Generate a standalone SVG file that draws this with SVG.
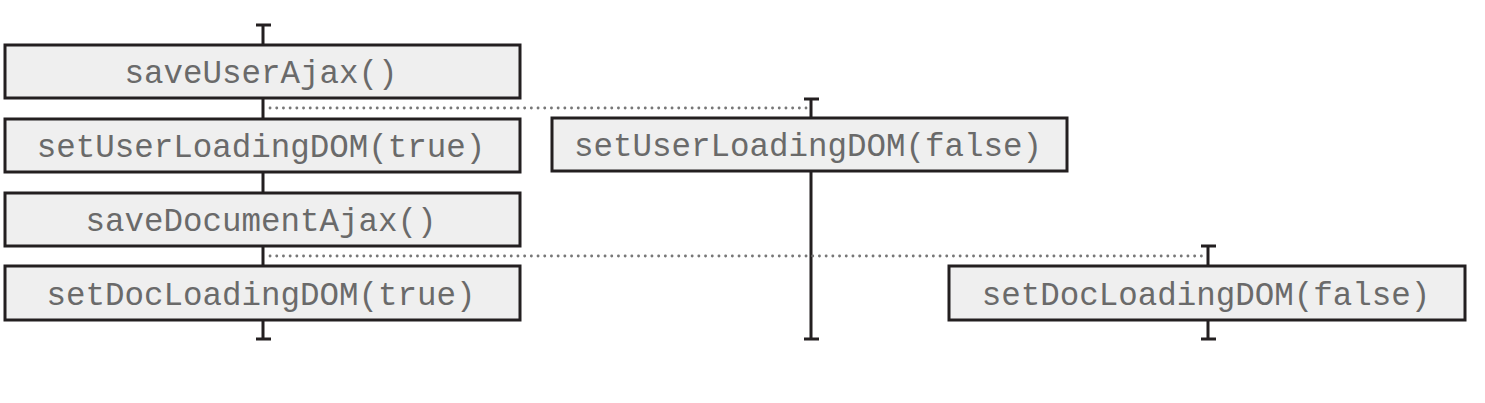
<svg xmlns="http://www.w3.org/2000/svg" width="1485" height="403" viewBox="0 0 1485 403">
<style>
.box{fill:#efefef;stroke:#231f20;stroke-width:3}
.lbl{font-family:"Liberation Mono",monospace;font-size:32.5px;fill:#6a6a6a;text-anchor:middle}
.life{stroke:#231f20;stroke-width:3;fill:none}
.dot{stroke:#777;stroke-width:2.8;stroke-dasharray:0.1 6.6;stroke-linecap:round;fill:none}
</style>
<rect width="1485" height="403" fill="#fff"/>
<g id="connectors">
<path class="life" d="M263 25V340M256 25H271M256 339H271"/>
<path class="life" d="M811 99V339M804 99H819M804 339H819"/>
<path class="life" d="M1208 246V339M1201 246H1216M1201 339H1216"/>
<path class="dot" d="M270 108H806"/>
<path class="dot" d="M270 256H1203"/>
</g>
<g id="saveUserAjax"><rect class="box" x="5" y="45" width="515" height="53"/><text class="lbl" x="261" y="83">saveUserAjax()</text></g>
<g id="setUserLoadingTrue"><rect class="box" x="5" y="119" width="515" height="53"/><text class="lbl" x="261" y="157">setUserLoadingDOM(true)</text></g>
<g id="saveDocumentAjax"><rect class="box" x="5" y="193" width="515" height="53"/><text class="lbl" x="261" y="231">saveDocumentAjax()</text></g>
<g id="setDocLoadingTrue"><rect class="box" x="5" y="266" width="515" height="54"/><text class="lbl" x="261" y="305">setDocLoadingDOM(true)</text></g>
<g id="setUserLoadingFalse"><rect class="box" x="552" y="118" width="515" height="53"/><text class="lbl" x="808" y="156">setUserLoadingDOM(false)</text></g>
<g id="setDocLoadingFalse"><rect class="box" x="949" y="266" width="516" height="54"/><text class="lbl" x="1206" y="305">setDocLoadingDOM(false)</text></g>
</svg>
